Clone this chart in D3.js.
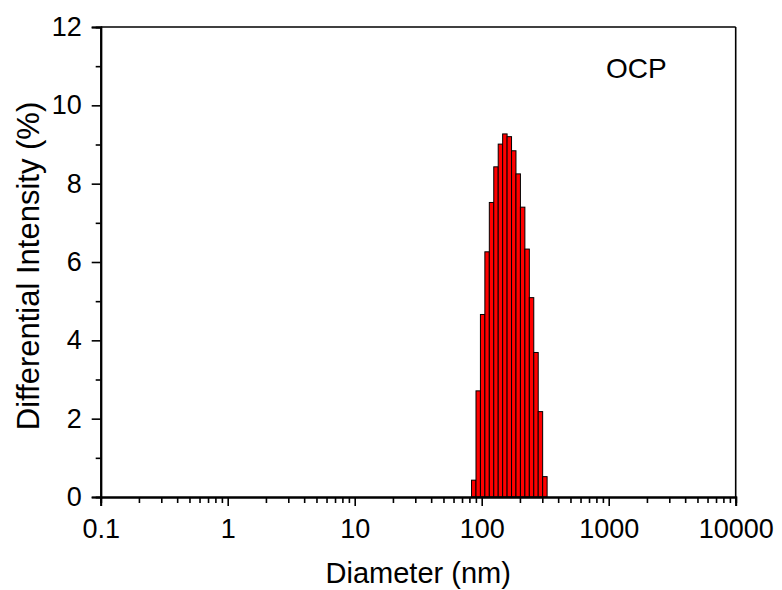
<!DOCTYPE html>
<html>
<head>
<meta charset="utf-8">
<script src="https://cdn.jsdelivr.net/npm/d3@7"></script>
<style>
  body{margin:0;background:#fff;}
  svg text{font-family:"Liberation Sans",Arial,sans-serif;fill:#000;}
</style>
</head>
<body>
<svg id="chart" width="782" height="590"></svg>
<script>
// 데이터 (읽어낸 값)
var diameters = [86.6, 93.9, 101.7, 110.3, 119.5, 129.6, 140.4, 152.2, 165.0, 178.8, 193.8, 210.1, 227.8, 246.9, 267.6, 290.0, 314.4]
var intensity = [0.43, 2.71, 4.66, 6.26, 7.52, 8.43, 9.01, 9.27, 9.20, 8.84, 8.25, 7.40, 6.33, 5.09, 3.69, 2.18, 0.52]
var xTicks = [0.1, 1, 10, 100, 1000, 10000]
var xTickLabels = ["0.1", "1", "10", "100", "1000", "10000"]
var yTicks = [0, 2, 4, 6, 8, 10, 12]
var sampleName = "OCP"

var m = {left:100.7, right:735.7, top:27, bottom:497}
var svg = d3.select("#chart")

var x = d3.scaleLog().domain([0.1, 10000]).range([m.left, m.right])
var y = d3.scaleLinear().domain([0, 12]).range([m.bottom, m.top])

// 막대 경계 = 이웃 중심의 기하평균
function edges(i){
    var prev = i > 0 ? diameters[i-1] : diameters[i]*diameters[i]/diameters[i+1]
    var next = i < diameters.length-1 ? diameters[i+1] : diameters[i]*diameters[i]/diameters[i-1]
    return [Math.sqrt(prev*diameters[i]), Math.sqrt(diameters[i]*next)]
}

svg.append("g").selectAll("rect")
   .data(intensity)
   .enter()
   .append("rect")
   .attr("x", function(d,i){ return x(edges(i)[0]) })
   .attr("width", function(d,i){ return x(edges(i)[1]) - x(edges(i)[0]) })
   .attr("y", function(d){ return y(d) })
   .attr("height", function(d){ return y(0) - y(d) })
   .attr("fill", "#ff0000")
   .attr("stroke", "#000")
   .attr("stroke-width", 1)

// 틀 (위, 오른쪽)
svg.append("line").attr("x1", m.left).attr("x2", m.right).attr("y1", m.top).attr("y2", m.top)
   .attr("stroke", "#000").attr("stroke-width", 1.6)
svg.append("line").attr("x1", m.right).attr("x2", m.right).attr("y1", m.top).attr("y2", m.bottom)
   .attr("stroke", "#000").attr("stroke-width", 1.6)

// x축
var minorX = []
for(var k=0; k<xTicks.length-1; k++){
    for(var j=2; j<10; j++){ minorX.push(xTicks[k]*j) }
}
var xAxis = svg.append("g").attr("transform", "translate(0," + m.bottom + ")")
xAxis.call(d3.axisBottom(x).tickValues(minorX).tickSize(6).tickFormat(""))
xAxis.append("g").call(d3.axisBottom(x).tickValues(xTicks).tickSize(9).tickPadding(13)
        .tickFormat(function(d,i){ return xTickLabels[i] }))
xAxis.selectAll("text").attr("font-size", 27).attr("font-family", "Liberation Sans, Arial, sans-serif").attr("fill", "#000")
xAxis.selectAll("line").attr("stroke-width", 1.6)
xAxis.selectAll("path").attr("stroke-width", 2)

// y축
var yAxis = svg.append("g").attr("transform", "translate(" + m.left + ",0)")
yAxis.call(d3.axisLeft(y).tickValues([1,3,5,7,9,11]).tickSize(5).tickFormat(""))
yAxis.append("g").call(d3.axisLeft(y).tickValues(yTicks).tickSize(9).tickPadding(10).tickFormat(d3.format("d")))
yAxis.selectAll("text").attr("font-size", 27).attr("font-family", "Liberation Sans, Arial, sans-serif").attr("fill", "#000")
yAxis.selectAll("line").attr("stroke-width", 1.6)
yAxis.selectAll("path").attr("stroke-width", 2)

// 축 제목
svg.append("text")
   .attr("x", (m.left + m.right)/2).attr("y", 583)
   .attr("text-anchor", "middle").attr("font-size", 29)
   .text("Diameter (nm)")
svg.append("text")
   .attr("transform", "translate(39,266) rotate(-90)")
   .attr("text-anchor", "middle").attr("font-size", 31)
   .text("Differential Intensity (%)")

svg.append("text")
   .attr("x", 606).attr("y", 78)
   .attr("font-size", 28)
   .text(sampleName)
</script>
</body>
</html>
